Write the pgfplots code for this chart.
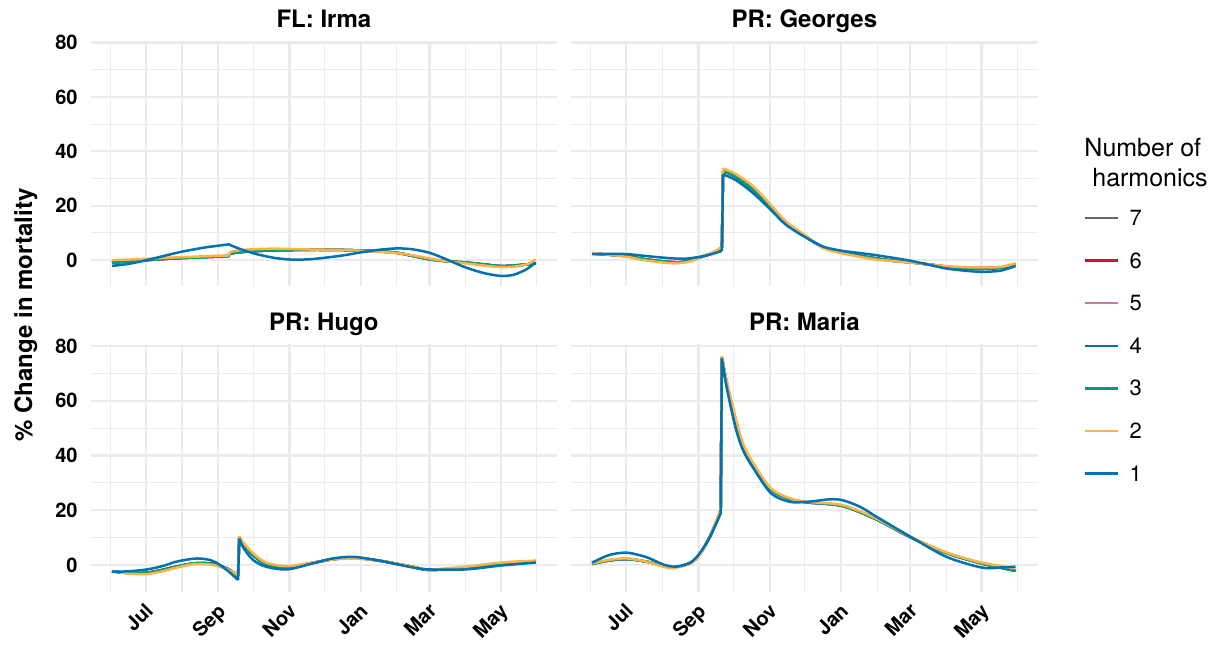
\documentclass[border=0pt]{standalone}
\usepackage{fontspec}
\setmainfont{TeX Gyre Heros}
\usepackage{pgfplots}
\usepackage{pgfplotstable}
\pgfplotsset{compat=1.18}

\definecolor{c7}{HTML}{666666}
\definecolor{c6}{HTML}{D0103A}
\definecolor{c5}{HTML}{CC79A7}
\definecolor{c4}{HTML}{0072B2}
\definecolor{c3}{HTML}{009E73}
\definecolor{c2}{HTML}{FFB347}
\definecolor{c1}{HTML}{0072B2}
\definecolor{gridc}{HTML}{EBEBEB}

% ---------------- FL: Irma (jump at day 101) ----------------
\pgfplotstableread{
x y
1 -2.1
15 -1.4
31 0.0
45 1.5
62 3.2
80 4.6
92 5.3
101 5.8
nan nan
101 5.8
110 4.2
123 2.4
139 0.9
154 0.2
170 0.3
184 0.9
200 1.8
215 2.9
230 3.8
245 4.3
258 4.0
273 2.7
288 0.2
304 -2.7
320 -4.8
334 -5.8
345 -5.4
356 -3.4
364 -0.9
}\IrmaA
\pgfplotstableread{
x y
1 0.0
15 0.2
31 0.5
45 0.8
62 1.1
80 1.4
92 1.6
101 1.7
nan nan
101 1.7
102 3.0
nan nan
102 3.0
110 3.6
123 4.0
139 4.2
154 4.1
170 3.9
184 3.8
202 3.7
215 3.4
230 3.0
245 2.6
258 1.8
273 0.6
288 -0.4
304 -1.2
320 -2.0
334 -2.6
345 -2.4
356 -1.6
364 0.2
}\IrmaB
\pgfplotstableread{
x y
1 -0.9
15 -0.5
31 0.0
45 0.4
62 0.8
80 1.1
92 1.3
101 1.5
nan nan
101 1.5
102 2.4
nan nan
102 2.4
110 2.9
123 3.3
139 3.6
154 3.7
170 3.8
184 3.8
202 3.7
215 3.5
230 3.2
245 2.7
258 1.6
273 0.3
288 -0.4
304 -0.9
320 -1.6
334 -2.2
345 -2.0
356 -1.6
364 -1.2
}\IrmaC

% ---------------- PR: Georges (jump at day 112) ----------------
\pgfplotstableread{
x y
1 2.2
15 2.3
31 2.2
45 1.6
62 0.9
79 0.5
93 1.2
104 2.3
112 3.4
nan nan
112 3.4
113 31.5
nan nan
113 31.5
124 29.4
139 24.5
154 18.4
167 12.9
185 8.0
199 4.9
215 3.4
230 2.6
244 1.8
259 0.8
273 -0.2
289 -1.7
304 -3.1
320 -3.9
334 -4.3
350 -3.9
363 -2.2
}\GeorgesA
\pgfplotstableread{
x y
1 2.7
15 2.0
31 1.2
45 0.0
62 -0.9
72 -1.2
84 -0.6
93 1.0
104 2.8
108 3.7
112 5.1
nan nan
112 5.1
113 33.7
nan nan
113 33.7
124 31.6
139 27.0
154 20.2
167 14.1
185 8.6
199 4.3
215 2.5
230 1.2
244 0.2
259 -0.4
273 -0.9
289 -1.6
304 -2.2
320 -2.6
334 -2.7
350 -2.5
363 -1.2
}\GeorgesB
\pgfplotstableread{
x y
1 2.4
15 2.0
31 1.4
45 0.4
62 -0.5
75 -0.8
84 -0.3
93 1.0
104 2.6
112 4.5
nan nan
112 4.5
113 32.8
nan nan
113 32.8
124 30.6
139 25.8
154 19.4
167 13.6
185 8.3
199 4.6
215 2.9
230 1.6
244 0.6
259 -0.3
273 -0.8
289 -1.6
304 -2.4
320 -3.0
334 -3.2
350 -2.8
363 -1.5
}\GeorgesC

% ---------------- PR: Hugo (jump at day 109) ----------------
\pgfplotstableread{
x y
1 -2.4
15 -2.3
31 -1.6
45 -0.3
54 1.0
64 1.9
74 2.4
82 2.1
90 1.0
101 -2.4
109 -5.5
nan nan
109 -5.5
110 9.7
nan nan
110 9.7
114 6.0
122 1.8
133 -0.6
151 -1.6
173 0.6
190 2.4
208 3.0
230 1.6
259 -0.9
273 -1.6
304 -1.6
334 -0.2
364 0.9
}\HugoA
\pgfplotstableread{
x y
1 -2.1
15 -3.1
31 -3.3
45 -2.2
54 -1.2
64 -0.2
74 0.4
88 0.0
101 -1.8
109 -3.7
nan nan
109 -3.7
110 10.6
nan nan
110 10.6
114 8.0
122 4.3
133 0.9
151 -0.4
173 0.9
190 2.0
208 2.4
230 1.6
259 -0.6
273 -1.6
304 -0.6
334 0.9
364 1.6
}\HugoB
\pgfplotstableread{
x y
1 -2.3
15 -2.9
31 -2.8
45 -1.7
54 -0.8
64 0.1
74 0.7
88 0.4
101 -1.6
109 -4.0
nan nan
109 -4.0
110 10.0
nan nan
110 10.0
114 7.3
122 3.6
133 0.3
151 -0.7
173 0.8
190 2.1
208 2.6
230 1.6
259 -0.7
273 -1.8
304 -1.0
334 0.6
364 1.4
}\HugoC

% ---------------- PR: Maria (jump at day 111) ----------------
\pgfplotstableread{
x y
1 0.9
16 3.7
31 4.5
48 2.8
62 0.2
73 -0.6
85 0.9
93 4.3
102 10.4
111 18.9
nan nan
111 18.9
112 75.5
nan nan
112 75.5
116 65.1
123.5 50.5
130 42.0
139 35.3
154 26.2
170 23.1
185 23.1
204 24.0
215 23.7
230 21.3
244 17.7
273 10.4
304 3.0
334 -0.9
350 -0.9
363 -0.6
}\MariaA
\pgfplotstableread{
x y
1 0.6
16 1.9
31 2.4
48 1.2
62 -0.6
70 -1.2
85 0.6
93 3.7
102 10.4
111 20.7
nan nan
111 20.7
112 76.3
nan nan
112 76.3
116 67.6
123.5 54.2
130 44.4
139 37.1
154 28.0
170 24.4
185 23.1
215 21.9
244 17.0
273 10.4
304 4.6
334 0.9
363 -1.2
}\MariaB
\pgfplotstableread{
x y
1 0.4
16 1.7
31 2.2
48 1.2
62 -0.3
70 -0.9
85 0.7
93 3.9
102 10.6
111 20.0
nan nan
111 20.0
112 75.9
nan nan
112 75.9
116 66.8
123.5 53.3
130 43.8
139 36.6
154 27.6
170 24.1
185 22.9
215 21.6
244 16.7
273 10.2
304 4.4
334 0.6
363 -2.1
}\MariaC

\pgfplotsset{
  panel/.style={
    scale only axis,
    xmin=-17, xmax=382, ymin=-9.7, ymax=80.6,
    axis line style={draw=none},
    major tick length=0pt, minor tick length=0pt,
    xtick={30,92,153,214,273,334},
    minor xtick={0,61,122,183,245,304,365},
    ytick={0,20,40,60,80},
    minor ytick={10,30,50,70},
    grid=both,
    major grid style={line width=1.1bp, color=gridc},
    minor grid style={line width=0.55bp, color=gridc},
    unbounded coords=jump,
    tick label style={font=\bfseries\fontsize{10bp}{12bp}\selectfont, inner sep=0pt},
    yticklabel style={anchor=east, xshift=-6.5bp},
    xticklabel style={rotate=45, anchor=north east, xshift=-4.2bp, yshift=-2.8bp},
    every axis title/.style={font=\bfseries\fontsize{12bp}{14bp}\selectfont, at={(0.5,1)}, anchor=base, yshift=6.8bp},
    every axis plot/.append style={smooth, no markers, line width=1.25bp},
    legend image code/.code={\draw[##1] (0bp,0bp) -- (16.5bp,0bp); \path (21.5bp,0bp);},
  },
}

\begin{document}
\begin{tikzpicture}
\path[use as bounding box] (0bp,0bp) rectangle (609.5bp,324bp);

\begin{axis}[panel, at={(45.5bp,180.75bp)}, anchor=south west, width=232.85bp, height=122.8bp,
  title={FL: Irma}, xticklabels={}, yticklabels={0,20,40,60,80}]
\addplot[c7] table {\IrmaC};
\addplot[c6] table {\IrmaC};
\addplot[c5] table {\IrmaC};
\addplot[c4] table {\IrmaC};
\addplot[c3] table {\IrmaC};
\addplot[c2] table {\IrmaB};
\addplot[c1] table {\IrmaA};
\end{axis}

\begin{axis}[panel, at={(285.5bp,180.75bp)}, anchor=south west, width=233.35bp, height=122.8bp,
  title={PR: Georges}, xticklabels={}, yticklabels={},
  legend style={at={(1.0992,0.3099)}, anchor=north west, draw=none, fill=none, inner sep=0pt, outer sep=0pt,
    font=\fontsize{11bp}{13bp}\selectfont, row sep=13.7bp,
    nodes={inner sep=0pt, text height=7.6bp, text depth=0pt}},
  legend cell align=left]
\addplot[c7] table {\GeorgesC};
\addplot[c6] table {\GeorgesC};
\addplot[c5] table {\GeorgesC};
\addplot[c4] table {\GeorgesC};
\addplot[c3] table {\GeorgesC};
\addplot[c2] table {\GeorgesB};
\addplot[c1] table {\GeorgesA};
\legend{7,6,5,4,3,2,1}
\end{axis}

\begin{axis}[panel, at={(45.5bp,28.2bp)}, anchor=south west, width=232.85bp, height=123.6bp,
  title={PR: Hugo}, xticklabels={Jul,Sep,Nov,Jan,Mar,May}, yticklabels={0,20,40,60,80}]
\addplot[c7] table {\HugoC};
\addplot[c6] table {\HugoC};
\addplot[c5] table {\HugoC};
\addplot[c4] table {\HugoC};
\addplot[c3] table {\HugoC};
\addplot[c2] table {\HugoB};
\addplot[c1] table {\HugoA};
\end{axis}

\begin{axis}[panel, at={(285.5bp,28.2bp)}, anchor=south west, width=233.35bp, height=123.6bp,
  title={PR: Maria}, xticklabels={Jul,Sep,Nov,Jan,Mar,May}, yticklabels={}]
\addplot[c7] table {\MariaC};
\addplot[c6] table {\MariaC};
\addplot[c5] table {\MariaC};
\addplot[c4] table {\MariaC};
\addplot[c3] table {\MariaC};
\addplot[c2] table {\MariaB};
\addplot[c1] table {\MariaA};
\end{axis}

\node[rotate=90, font=\bfseries\fontsize{12bp}{14bp}\selectfont] at (12.9bp,166.5bp) {\% Change in mortality};
\node[anchor=base, font=\fontsize{12.5bp}{15bp}\selectfont] at (571.4bp,245.65bp) {Number of};
\node[anchor=base, font=\fontsize{12.5bp}{15bp}\selectfont] at (575bp,230.65bp) {harmonics};
\end{tikzpicture}
\end{document}
